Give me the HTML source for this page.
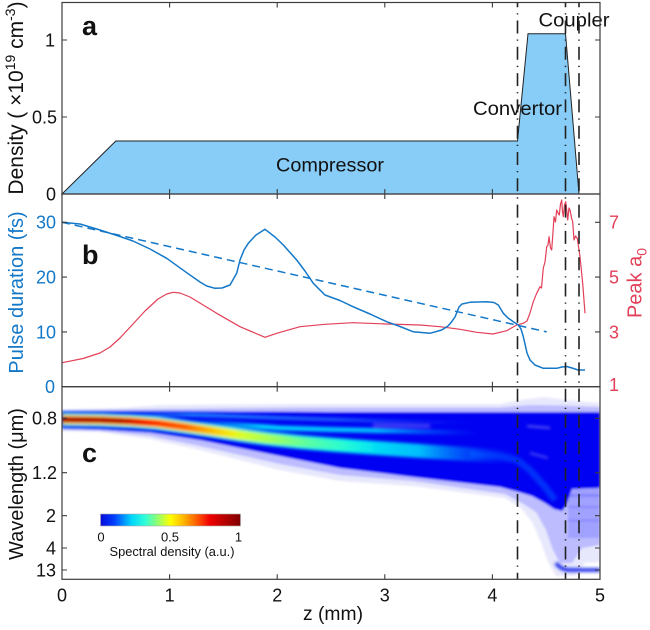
<!DOCTYPE html>
<html><head><meta charset="utf-8"><style>
html,body{margin:0;padding:0;background:#fff;}
svg{display:block;}
text{font-family:"Liberation Sans",sans-serif;}
</style></head><body>
<svg width="650" height="630" viewBox="0 0 650 630" xmlns="http://www.w3.org/2000/svg">
<defs>
<clipPath id="cpc"><rect x="62" y="386.7" width="538" height="192.6"/></clipPath>
<filter id="b1" x="-5%" y="-20%" width="110%" height="140%"><feGaussianBlur stdDeviation="1"/></filter>
<filter id="b2" x="-5%" y="-50%" width="110%" height="200%"><feGaussianBlur stdDeviation="1.5"/></filter>
<linearGradient id="cbar" x1="0" y1="0" x2="1" y2="0">
<stop offset="0" stop-color="#0a0ad8"/><stop offset="0.1" stop-color="#0040ff"/><stop offset="0.22" stop-color="#00d4ff"/><stop offset="0.32" stop-color="#30ffd8"/><stop offset="0.42" stop-color="#a0ff60"/><stop offset="0.5" stop-color="#ffff00"/><stop offset="0.6" stop-color="#ffb000"/><stop offset="0.7" stop-color="#ff5000"/><stop offset="0.78" stop-color="#f00000"/><stop offset="0.9" stop-color="#b00000"/><stop offset="1" stop-color="#800000"/>
</linearGradient>
<linearGradient id="gC" gradientUnits="userSpaceOnUse" x1="62" y1="0" x2="520" y2="0">
<stop offset="0" stop-color="#00e0ff" stop-opacity="1"/><stop offset="0.6" stop-color="#00f4f0" stop-opacity="1"/><stop offset="0.78" stop-color="#00e0ff" stop-opacity="0.85"/><stop offset="0.9" stop-color="#0070ff" stop-opacity="0.5"/><stop offset="1" stop-color="#0020ff" stop-opacity="0"/>
</linearGradient>
<linearGradient id="gY" gradientUnits="userSpaceOnUse" x1="62" y1="0" x2="520" y2="0">
<stop offset="0" stop-color="#ffff10" stop-opacity="1"/><stop offset="0.2" stop-color="#ffff00" stop-opacity="1"/><stop offset="0.37" stop-color="#e8ff20" stop-opacity="1"/><stop offset="0.44" stop-color="#b0ff50" stop-opacity="1"/><stop offset="0.52" stop-color="#70ff90" stop-opacity="0.95"/><stop offset="0.61" stop-color="#40ffc0" stop-opacity="0.7"/><stop offset="0.7" stop-color="#20ffe0" stop-opacity="0"/>
</linearGradient>
<linearGradient id="gR" gradientUnits="userSpaceOnUse" x1="62" y1="0" x2="520" y2="0">
<stop offset="0" stop-color="#ff2000" stop-opacity="1"/><stop offset="0.16" stop-color="#ff1000" stop-opacity="1"/><stop offset="0.27" stop-color="#ff6000" stop-opacity="1"/><stop offset="0.33" stop-color="#ffb000" stop-opacity="0.8"/><stop offset="0.4" stop-color="#ffe000" stop-opacity="0"/>
</linearGradient>
<linearGradient id="gD" gradientUnits="userSpaceOnUse" x1="62" y1="0" x2="520" y2="0">
<stop offset="0" stop-color="#a00000" stop-opacity="1"/><stop offset="0.13" stop-color="#b00000" stop-opacity="1"/><stop offset="0.2" stop-color="#e00000" stop-opacity="0"/>
</linearGradient>
<linearGradient id="gU" gradientUnits="userSpaceOnUse" x1="120" y1="0" x2="480" y2="0">
<stop offset="0" stop-color="#30c0ff" stop-opacity="0"/><stop offset="0.2" stop-color="#30d0ff" stop-opacity="0.7"/><stop offset="0.6" stop-color="#30c0ff" stop-opacity="0.5"/><stop offset="1" stop-color="#2060ff" stop-opacity="0"/>
</linearGradient>
<linearGradient id="gM" gradientUnits="userSpaceOnUse" x1="190" y1="0" x2="480" y2="0">
<stop offset="0" stop-color="#00e8ff" stop-opacity="0"/><stop offset="0.25" stop-color="#00f0ff" stop-opacity="0.9"/><stop offset="0.65" stop-color="#00e0ff" stop-opacity="0.85"/><stop offset="1" stop-color="#0060ff" stop-opacity="0"/>
</linearGradient>
</defs>

<!-- Panel a -->
<polygon points="62,194 115.8,141 517.5,141 528,33.7 565.5,33.7 579,194" fill="#88cdf8" stroke="#222" stroke-width="1"/>
<text x="276" y="171.5" font-size="19" textLength="108" lengthAdjust="spacingAndGlyphs" fill="#111">Compressor</text>
<text x="473" y="115" font-size="19" textLength="89" lengthAdjust="spacingAndGlyphs" fill="#111">Convertor</text>
<text x="538.5" y="26.5" font-size="19" textLength="71" lengthAdjust="spacingAndGlyphs" fill="#111">Coupler</text>
<text x="82" y="35" font-size="27" font-weight="bold" fill="#111">a</text>

<!-- Panel b curves -->
<polyline fill="none" stroke="#e24058" stroke-width="1.2" stroke-linejoin="round" points="62.3,362.7 83,358.5 100,353 110,347 120,338 133,324 145,311 158,299 166.7,294 173.3,292.3 180,293 190,297 216.7,313.3 240,326.7 265,337.3 276.7,333.3 300,326.7 325,324.3 353,322.7 386.7,324 420,325 440,326.7 460,329.3 476.7,332.3 493,334 506.7,330.7 516.7,325 523.3,323.3 527,321 530,313 533.3,301.7 536.7,293.3 540,286.7 541.5,288 543.3,268 545,262 546.7,246.7 548,245 549,236.7 550.5,248 551.7,250 553,232 554,216.7 555.5,222 556.7,210 558,213 559.3,215 560.5,204 561.7,200 562.5,212 563.3,216.7 564.5,205 565.7,201.7 566.7,210 567.7,220 569,208 570,210 571.5,218 572.7,221.7 574,240 575.5,236 577.3,238.3 580,256.7 582.7,283.3 585,313.3"/>
<line x1="62" y1="222.3" x2="546.7" y2="331.9" stroke="#1478c8" stroke-width="1.5" stroke-dasharray="8 5"/>
<polyline fill="none" stroke="#1478c8" stroke-width="1.5" stroke-linejoin="round" points="62,222.3 80,224 100,230 120,236.5 133,241 150,249 166.7,258.3 186.7,272.7 200,282 206.7,286 215,288.3 222,288 230,285 236.7,273.3 240,260 244,250 248.3,243.3 256,235 265,229.3 275,237 283.3,245 296.7,260 305,271 313.3,283.3 325,295 340,300.5 353,306.7 370,314 386.7,321.7 400,326.5 413,331.7 430,333.3 441.7,330 448,326 451.7,321.7 455,317 457,312 459,307 462,304 470,302.3 486.7,301.7 494,302.5 498.3,305 503.3,313.3 508,318 513.3,321.7 518.3,325 521,329 523.3,336.7 525,344 527,353 530,360 535,365 543.3,368.3 556.7,368.3 562,367 566.7,366.5 572,368 578,370 585,370"/>
<text x="82" y="264" font-size="27" font-weight="bold" fill="#111">b</text>

<!-- Panel c heatmap -->
<g clip-path="url(#cpc)">
<g filter="url(#b1)">
<polygon fill="#e8e8fc" points="62,409.5 120,408 160,405 300,404 500,404 520,400 545,397 565,400 600,403 600,562 585,563 575,576 556,576 548,562 541,542 532,522 522,509 505,498 413,486 340,481 280,470 200,450 150,439 100,432 62,431"/>
<polygon fill="#bcbcff" points="62,410 150,409 300,407.5 500,407.5 530,405 560,405.5 600,407 600,545 582,548 572,563 560,563 553,550 546,530 536,512 522,503 505,494 413,481 340,475 280,464 200,446 150,436 100,431 62,430"/>
<rect x="568" y="488" width="32" height="50" fill="#8a8aff" opacity="0.55"/>
<rect x="568" y="494" width="32" height="3" fill="#6a6aff" opacity="0.5"/>
<rect x="568" y="506" width="32" height="2" fill="#6a6aff" opacity="0.45"/>
<rect x="568" y="519" width="32" height="3" fill="#7a7aff" opacity="0.4"/>
<polygon fill="#0404f2" points="62,411 150,411 330,412 600,412 600,488 572,489 566,506 562,511 554,509 545,503 532,496 517,491.5 500,487 413,477 340,468 300,460 250,450 200,440 150,432.5 100,429.5 62,428.5"/>
</g>
<g filter="url(#b2)">
<polyline fill="none" stroke="#0050ff" stroke-width="7" stroke-opacity="0.6" stroke-linejoin="round" points="470,454 500,456 517,460 530,470 545,487 555,500"/>
<polyline fill="none" stroke="url(#gU)" stroke-width="3.5" stroke-linejoin="round" points="120,413.5 200,415 300,418.5 400,421.5 480,423"/>
<polyline fill="none" stroke="url(#gM)" stroke-width="5" stroke-linejoin="round" points="190,421 240,425 280,428 330,429.5 400,431 480,433"/>
<polyline fill="none" stroke="url(#gC)" stroke-width="14" stroke-linejoin="round" points="62,419.5 100,420 130,421.2 157,423.2 185,427 210,430.5 240,435 267,438.5 300,442 330,444.5 370,447.5 413,450.5 450,453 480,455 520,457.5"/>
<polyline fill="none" stroke="url(#gY)" stroke-width="9.5" stroke-linejoin="round" points="62,419.5 100,420 130,421.2 157,423.2 185,427 210,430.5 240,435 267,438.5 300,442 330,444.5 370,447.5 413,450.5 450,453"/>
<polyline fill="none" stroke="url(#gR)" stroke-width="7" stroke-linejoin="round" points="62,419.5 100,420 130,421.2 157,423.2 185,427 210,430.5 240,435 267,438.5 300,442"/>
<polyline fill="none" stroke="url(#gD)" stroke-width="5" stroke-linejoin="round" points="62,419.5 100,420 130,421.2 157,423.2 185,427"/>
<line x1="373" y1="425" x2="430" y2="426" stroke="#ffffff" stroke-width="1.5" stroke-opacity="0.5"/>
<line x1="527" y1="426" x2="550" y2="428" stroke="#ffffff" stroke-width="1.5" stroke-opacity="0.5"/>
<line x1="530" y1="453" x2="548" y2="458" stroke="#ffffff" stroke-width="1.5" stroke-opacity="0.4"/>
<path d="M556,563 Q561,570 570,570 L600,570" fill="none" stroke="#1020e8" stroke-width="3.5"/>
</g>
</g>
<text x="82" y="462" font-size="27" font-weight="bold" fill="#111">c</text>

<!-- Colorbar -->
<rect x="100.5" y="514" width="140" height="12" fill="url(#cbar)" stroke="#aaa" stroke-width="0.6"/>
<text x="101" y="541.5" font-size="13" text-anchor="middle" fill="#111">0</text>
<text x="170" y="541.5" font-size="13" text-anchor="middle" fill="#111">0.5</text>
<text x="238.5" y="541.5" font-size="13" text-anchor="middle" fill="#111">1</text>
<text x="109.5" y="556" font-size="13" textLength="125" lengthAdjust="spacingAndGlyphs" fill="#111">Spectral density (a.u.)</text>

<!-- Dash-dot vertical lines -->
<g stroke="#222" stroke-width="1.6" stroke-dasharray="13 6 1.3 6" stroke-dashoffset="8.8">
<line x1="517.5" y1="3" x2="517.5" y2="579"/>
<line x1="565.5" y1="3" x2="565.5" y2="579"/>
<line x1="579" y1="3" x2="579" y2="579"/>
</g>

<!-- Frames -->
<g fill="none" stroke="#3c3c3c" stroke-width="1.2">
<rect x="62" y="2.5" width="538" height="191.5"/>
<rect x="62" y="194" width="538" height="192.7"/>
<rect x="62" y="386.7" width="538" height="192.6"/>
</g>
<!-- Ticks -->
<g stroke="#3c3c3c" stroke-width="1.1">
<path d="M169.6,2.5v5M277.2,2.5v5M384.8,2.5v5M492.4,2.5v5 M169.6,194v-5M277.2,194v-5M384.8,194v-5M492.4,194v-5 M169.6,194v5M277.2,194v5M384.8,194v5M492.4,194v5 M169.6,386.7v-5M277.2,386.7v-5M384.8,386.7v-5M492.4,386.7v-5 M169.6,386.7v5M277.2,386.7v5M384.8,386.7v5M492.4,386.7v5 M169.6,579.3v-5M277.2,579.3v-5M384.8,579.3v-5M492.4,579.3v-5"/>
<path d="M62,117h5M62,40h5M600,117h-5M600,40h-5"/>
<path d="M62,331.9h5M62,277.1h5M62,222.3h5M600,331.9h-5M600,277.1h-5M600,222.3h-5"/>
<path d="M62,418.3h5M62,472.7h5M62,515.7h5M62,548h5M62,570h5M600,418.3h-5M600,472.7h-5M600,515.7h-5M600,548h-5M600,570h-5"/>
</g>

<!-- Tick labels -->
<g font-size="18" fill="#111" text-anchor="end">
<text x="56" y="200.4">0</text>
<text x="57" y="123.4">0.5</text>
<text x="55" y="46.4">1</text>
<text x="57" y="424.7">0.8</text>
<text x="57" y="479.1">1.2</text>
<text x="56" y="522.1">2</text>
<text x="56" y="554.4">4</text>
<text x="56" y="576.4">13</text>
</g>
<g font-size="18" fill="#1478c8" text-anchor="end">
<text x="55" y="393">0</text>
<text x="56" y="338.3">10</text>
<text x="56" y="283.5">20</text>
<text x="56" y="228.7">30</text>
</g>
<g font-size="18" fill="#e24058">
<text x="609" y="391">1</text>
<text x="609" y="338.3">3</text>
<text x="609" y="283.5">5</text>
<text x="609" y="228.7">7</text>
</g>
<g font-size="18" fill="#111" text-anchor="middle">
<text x="62" y="601.5">0</text>
<text x="169.6" y="601.5">1</text>
<text x="277.2" y="601.5">2</text>
<text x="384.8" y="601.5">3</text>
<text x="492.4" y="601.5">4</text>
<text x="600" y="601.5">5</text>
</g>
<text x="303" y="620" font-size="19" textLength="60" lengthAdjust="spacingAndGlyphs" fill="#111">z (mm)</text>

<!-- Axis labels -->
<text transform="translate(23,98) rotate(-90)" text-anchor="middle" font-size="21" fill="#111">Density ( ×10<tspan font-size="14" dy="-8">19</tspan><tspan dy="8"> cm</tspan><tspan font-size="14" dy="-8">-3</tspan><tspan dy="8">)</tspan></text>
<text transform="translate(23,292.5) rotate(-90)" text-anchor="middle" font-size="20" fill="#1478c8">Pulse duration (fs)</text>
<text transform="translate(23,484) rotate(-90)" text-anchor="middle" font-size="20" fill="#111">Wavelength (μm)</text>
<text transform="translate(641.5,283) rotate(-90)" text-anchor="middle" font-size="20" fill="#e24058">Peak a<tspan font-size="14" dy="5">0</tspan></text>
</svg>
</body></html>
